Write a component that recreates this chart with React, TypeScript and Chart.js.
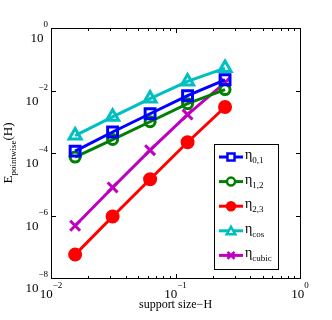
import React, { useEffect, useRef } from "react";
import { Chart, registerables } from "chart.js";

Chart.register(...registerables);

const supportSize = [1 / 64, 1 / 32, 1 / 16, 1 / 8, 1 / 4];
const eta01 = [1.15e-4, 4.7e-4, 1.8e-3, 6.8e-3, 2.2e-2];
const eta12 = [7.4e-5, 2.7e-4, 1.0e-3, 3.8e-3, 1.07e-2];
const eta23 = [5.6e-8, 9.3e-7, 1.45e-5, 2.2e-4, 2.97e-3];
const etaCos = [3.6e-4, 1.44e-3, 5.5e-3, 1.95e-2, 5.2e-2];
const etaCubic = [4.7e-7, 7.9e-6, 1.23e-4, 1.7e-3, 1.8e-2];

const xMajorTicks = [0.01, 0.1, 1];
const xMajorExp = ["-2", "-1", "0"];
const xMinorTicks = [0.02, 0.03, 0.04, 0.05, 0.06, 0.07, 0.08, 0.09, 0.2, 0.3, 0.4, 0.5, 0.6, 0.7, 0.8, 0.9];
const yMajorTicks = [1, 1e-2, 1e-4, 1e-6, 1e-8];
const yMajorExp = ["0", "-2", "-4", "-6", "-8"];

const seriesNames = ["0,1", "1,2", "2,3", "cos", "cubic"];
const seriesColors = ["#0000ff", "#008000", "#ff0000", "#00bfbf", "#bf00bf"];
const seriesStyles = ["rect", "circle", "circleFilled", "triangle", "crossRot"];

const SERIF = "'Liberation Serif', 'DejaVu Serif', serif";

function drawMarker(ctx: CanvasRenderingContext2D, style: string, x: number, y: number, r: number, color: string, lw: number) {
  ctx.save();
  ctx.strokeStyle = color;
  ctx.fillStyle = color;
  ctx.lineWidth = lw;
  ctx.beginPath();
  if (style === "rect") {
    const s = r * Math.SQRT1_2;
    ctx.rect(x - s, y - s, 2 * s, 2 * s);
    ctx.fillStyle = "#fff";
    ctx.fill();
    ctx.stroke();
  } else if (style === "circle") {
    ctx.arc(x, y, r, 0, Math.PI * 2);
    ctx.fillStyle = "#fff";
    ctx.fill();
    ctx.stroke();
  } else if (style === "circleFilled") {
    ctx.arc(x, y, r, 0, Math.PI * 2);
    ctx.fill();
    ctx.stroke();
  } else if (style === "triangle") {
    const a = -Math.PI / 2;
    for (let i = 0; i < 3; i++) {
      const ang = a + (i * 2 * Math.PI) / 3;
      const px = x + Math.cos(ang) * r;
      const py = y + Math.sin(ang) * r + r * 0.2;
      if (i === 0) ctx.moveTo(px, py);
      else ctx.lineTo(px, py);
    }
    ctx.closePath();
    ctx.fillStyle = "#fff";
    ctx.fill();
    ctx.stroke();
  } else if (style === "crossRot") {
    const s = r * Math.SQRT1_2;
    ctx.moveTo(x - s, y - s);
    ctx.lineTo(x + s, y + s);
    ctx.moveTo(x - s, y + s);
    ctx.lineTo(x + s, y - s);
    ctx.stroke();
  }
  ctx.restore();
}

const axesPlugin = {
  id: "matlabAxes",
  afterDraw(chart: any) {
    const { ctx, chartArea } = chart;
    const { left, right, top, bottom } = chartArea;
    const xs = chart.scales.x;
    const ys = chart.scales.y;
    ctx.save();
    ctx.globalAlpha = 1;
    ctx.globalCompositeOperation = "source-over";
    ctx.setLineDash([]);
    const L = Math.round(left), R = Math.round(right), T = Math.round(top), B = Math.round(bottom);
    ctx.fillStyle = "#000";
    ctx.fillRect(L, T, R - L + 1, 1);
    ctx.fillRect(L, B, R - L + 1, 1);
    ctx.fillRect(L, T, 1, B - T + 1);
    ctx.fillRect(R, T, 1, B - T + 1);
    xMajorTicks.forEach((v) => {
      const px = Math.round(xs.getPixelForValue(v));
      ctx.fillRect(px, B - 4, 1, 4);
      ctx.fillRect(px, T + 1, 1, 4);
    });
    xMinorTicks.forEach((v) => {
      const px = Math.round(xs.getPixelForValue(v));
      ctx.fillRect(px, B - 2, 1, 2);
      ctx.fillRect(px, T + 1, 1, 2);
    });
    yMajorTicks.forEach((v) => {
      const py = Math.round(ys.getPixelForValue(v));
      ctx.fillRect(L + 1, py, 4, 1);
      ctx.fillRect(R - 4, py, 4, 1);
    });

    ctx.fillStyle = "#000";
    ctx.textBaseline = "alphabetic";
    xMajorTicks.forEach((v, i) => {
      const px = xs.getPixelForValue(v);
      ctx.font = `13px ${SERIF}`;
      const w1 = ctx.measureText("10").width;
      ctx.font = `9px ${SERIF}`;
      const exp = xMajorExp[i].replace("-", "\u2212");
      const w2 = ctx.measureText(exp).width;
      const x0 = px - (w1 + w2) / 2;
      ctx.font = `13px ${SERIF}`;
      ctx.textAlign = "left";
      ctx.fillText("10", x0, bottom + 20);
      ctx.font = `9px ${SERIF}`;
      ctx.fillText(exp, x0 + w1, bottom + 10);
    });
    yMajorTicks.forEach((v, i) => {
      const py = ys.getPixelForValue(v);
      ctx.font = `9px ${SERIF}`;
      const exp = yMajorExp[i].replace("-", "\u2212");
      const w2 = ctx.measureText(exp).width;
      ctx.textAlign = "left";
      const xr = left - 3;
      ctx.fillText(exp, xr - w2, py - 1);
      ctx.font = `13px ${SERIF}`;
      const w1 = ctx.measureText("10").width;
      ctx.fillText("10", xr - w2 - w1, py + 14);
    });
    ctx.font = `12px ${SERIF}`;
    ctx.textAlign = "center";
    ctx.fillText("support size\u2212H", (left + right) / 2, bottom + 30);
    ctx.save();
    ctx.translate(12, (top + bottom) / 2);
    ctx.rotate(-Math.PI / 2);
    ctx.textAlign = "left";
    ctx.font = `13px ${SERIF}`;
    const wE = ctx.measureText("E").width;
    const wH = ctx.measureText("(H)").width;
    ctx.font = `9px ${SERIF}`;
    const wP = ctx.measureText("pointwise").width;
    const total = wE + wP + wH;
    let cx = -total / 2;
    ctx.font = `13px ${SERIF}`;
    ctx.fillText("E", cx, 0);
    cx += wE;
    ctx.font = `9px ${SERIF}`;
    ctx.fillText("pointwise", cx, 4);
    cx += wP;
    ctx.font = `13px ${SERIF}`;
    ctx.fillText("(H)", cx, 0);
    ctx.restore();

    const lx = 214, ly = 144, lw = 64, lh = 125;
    ctx.fillStyle = "#fff";
    ctx.fillRect(lx, ly, lw, lh);
    ctx.fillStyle = "#000";
    ctx.fillRect(lx, ly, lw + 1, 1);
    ctx.fillRect(lx, ly + lh, lw + 1, 1);
    ctx.fillRect(lx, ly, 1, lh + 1);
    ctx.fillRect(lx + lw, ly, 1, lh + 1);
    seriesNames.forEach((name, i) => {
      const y = 157 + i * 24.6;
      const color = seriesColors[i];
      ctx.strokeStyle = color;
      ctx.lineWidth = 3;
      ctx.beginPath();
      ctx.moveTo(219, y);
      ctx.lineTo(243, y);
      ctx.stroke();
      const r = seriesStyles[i] === "circle" || seriesStyles[i] === "circleFilled" ? 4 : 5;
      drawMarker(ctx, seriesStyles[i], 231, y, r, color, 2.5);
      ctx.fillStyle = "#000";
      ctx.textAlign = "left";
      ctx.font = `14px ${SERIF}`;
      ctx.fillText("\u03b7", 245, y + 2);
      const we = ctx.measureText("\u03b7").width;
      ctx.font = `9px ${SERIF}`;
      ctx.fillText(name, 245 + we, y + 6);
    });
    ctx.restore();
  },
};

export default function App() {
  const ref = useRef<HTMLCanvasElement>(null);
  useEffect(() => {
    if (!ref.current) return;
    const series = [eta01, eta12, eta23, etaCos, etaCubic];
    const radii = [7, 5, 5.5, 7, 7];
    const chart = new Chart(ref.current, {
      type: "line",
      data: {
        datasets: series.map((vals, i) => {
          const st = seriesStyles[i];
          return {
            label: seriesNames[i],
            data: supportSize.map((x, j) => ({ x, y: vals[j] })),
            borderColor: seriesColors[i],
            backgroundColor: seriesColors[i],
            borderWidth: 3,
            pointStyle: st === "circleFilled" ? "circle" : st,
            pointRadius: radii[i],
            pointBorderWidth: 3,
            pointBorderColor: seriesColors[i],
            pointBackgroundColor: st === "circleFilled" ? seriesColors[i] : "rgba(255,255,255,0)",
            tension: 0,
            clip: false as any,
          };
        }),
      },
      options: {
        animation: false,
        responsive: false,
        events: [],
        layout: { autoPadding: false, padding: { left: 51, top: 28, right: 32, bottom: 42 } },
        plugins: { legend: { display: false }, tooltip: { enabled: false } },
        scales: {
          x: {
            type: "logarithmic",
            min: 0.01,
            max: 1,
            grid: { display: false, drawTicks: false, tickLength: 0 },
            border: { display: false },
            ticks: { display: false },
            afterFit: (s: any) => { s.height = 0; },
          },
          y: {
            type: "logarithmic",
            min: 1e-8,
            max: 1,
            grid: { display: false, drawTicks: false, tickLength: 0 },
            border: { display: false },
            ticks: { display: false },
            afterFit: (s: any) => { s.width = 0; },
          },
        },
      },
      plugins: [axesPlugin],
    });
    return () => chart.destroy();
  }, []);
  return (
    <div style={{ position: "absolute", left: 0, top: 0, width: 332, height: 320, background: "#fff" }}>
      <canvas ref={ref} width={332} height={320} />
    </div>
  );
}
